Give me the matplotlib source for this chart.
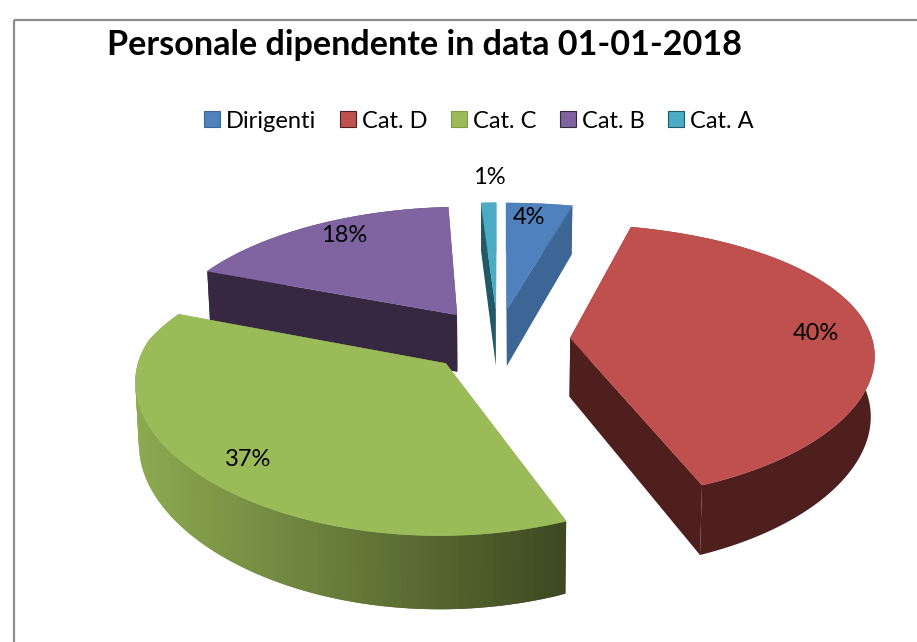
import numpy as np
import matplotlib
matplotlib.use("Agg")
import matplotlib.pyplot as plt
from matplotlib.patches import Patch, Rectangle
from matplotlib.colors import to_rgb

title = "Personale dipendente in data 01-01-2018"
categories = ["Dirigenti", "Cat. D", "Cat. C", "Cat. B", "Cat. A"]
values = [4, 40, 37, 18, 1]
top_colors = ["#4F81BD", "#C0504D", "#9BBB59", "#8064A2", "#4BACC6"]
wall_colors = ["#3C6695", "#4F1F1D", "#7F9A48", "#352840", "#215966"]
label_pos = [(529, 218), (816, 334), (248, 460), (344, 236), (489, 178)]

plt.rcParams["font.family"] = ["Lato", "DejaVu Sans"]
W, H = 917, 642
fig = plt.figure(figsize=(W / 100, H / 100), dpi=100)
ax = fig.add_axes([0, 0, 1, 1])
ax.set_xlim(0, W)
ax.set_ylim(H, 0)
ax.axis("off")

# projection of the exploded disc
CX, CY, F, G, D, KX, KX_BACK_LEFT, KY, M, EXPL = 498, 340, 302, 134, 59, 0.11, 0.20, 0.17, 0.01, 0.24


def project(X, Y, z=0.0):
    kx = KX_BACK_LEFT if (X < 0 and Y > 0) else KX
    return (CX + F * X / (1 + kx * Y) * (1 - M * z),
            CY - (G * Y - D * z) / (1 + KY * Y))


frac = np.array(values) / sum(values)
edges = np.concatenate([[0], np.cumsum(frac)]) * 2 * np.pi

ax.add_patch(Rectangle((13.5, 19.5), W, H, fill=False, ec="#8c8c8c", lw=1.6))


def draw_slice(i, z):
    a0, a1 = edges[i], edges[i + 1]
    mid = (a0 + a1) / 2
    ox, oy = EXPL * np.sin(mid), EXPL * np.cos(mid)
    t = np.linspace(a0, a1, max(8, int((a1 - a0) * 60)))
    X, Y = ox + np.sin(t), oy + np.cos(t)
    wall = wall_colors[i]
    # radial walls
    for a in (a0, a1):
        ex, ey = ox + np.sin(a), oy + np.cos(a)
        pts = [project(ox, oy), project(ex, ey), project(ex, ey, 1), project(ox, oy, 1)]
        ax.fill(*zip(*pts), color=wall, lw=0, zorder=z)
    # outer wall
    if categories[i] == "Cat. C":
        # shaded from left to right; each quad overlaps the next to hide seams
        for j in range(len(t) - 1):
            k = min(j + 2, len(t) - 1)
            pts = [project(X[j], Y[j]), project(X[k], Y[k]),
                   project(X[k], Y[k], 1), project(X[j], Y[j], 1)]
            s = np.clip((np.mean([p[0] for p in pts]) - 135) / (557 - 135), 0, 1)
            c = (1 - s) * np.array(to_rgb("#8DAA50")) + s * np.array(to_rgb("#3E4A22"))
            ax.fill(*zip(*pts), color=c, lw=0, zorder=z)
    else:
        pts = [project(a, b) for a, b in zip(X, Y)] + [project(a, b, 1) for a, b in zip(X[::-1], Y[::-1])]
        ax.fill(*zip(*pts), color=wall, lw=0, zorder=z)
    # top face
    top = [project(ox, oy)] + [project(a, b) for a, b in zip(X, Y)]
    ax.fill(*zip(*top), color=top_colors[i], lw=0.3, zorder=z + 0.5)


for z, i in enumerate([3, 4, 0, 1, 2]):
    draw_slice(i, z + 1)

for v, (x, y) in zip(values, label_pos):
    ax.text(x, y, f"{v}%", ha="center", va="center", fontsize=17, color="black", zorder=10)

ax.text(107, 45, title, ha="left", va="center", fontsize=24.6, fontweight="bold", color="black")

handles = [Patch(facecolor=c, edgecolor=w, lw=0.8) for c, w in zip(top_colors, wall_colors)]
ax.legend(handles, categories, loc="center", bbox_to_anchor=(479 / W, 1 - 121 / H), ncol=5,
          frameon=False, fontsize=17, handlelength=0.68, handleheight=0.68,
          handletextpad=0.25, columnspacing=1.0, borderpad=0)

fig.savefig("out.png", dpi=100)
